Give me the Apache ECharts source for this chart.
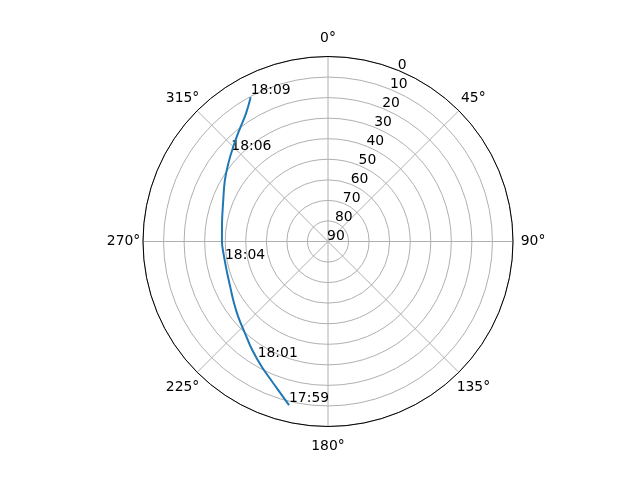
<!DOCTYPE html>
<html><head><meta charset="utf-8">
<script src="https://cdn.jsdelivr.net/npm/echarts@6/dist/echarts.min.js"></script>
<style>html,body{margin:0;padding:0;background:#fff}#c{width:640px;height:480px}</style>
</head><body><div id="c"></div>
<script>
// satellite pass: elevation (deg) and azimuth (deg)
const azimuth   = [193.4, 201.1, 207.9, 214.9, 222.1, 230.0, 238.3, 243.4, 252.5, 261.7, 270.1, 279.7, 291.6, 300.8, 308.1, 315.0, 321.5, 327.4, 331.8];
const elevation = [8.2, 16.1, 21.1, 25.6, 29.8, 33.0, 35.8, 37.2, 38.6, 38.9, 38.4, 37.7, 35.2, 31.6, 28.4, 24.8, 20.7, 16.0, 10.4];
const labelTimes     = ['17:59', '18:01', '18:04', '18:06', '18:09'];
const labelAzimuth   = [193.4, 210.7, 258.6, 312.4, 331.8];
const labelElevation = [8.2, 23.0, 38.9, 26.3, 10.4];
const angleTickLabels  = ['0°', '45°', '90°', '135°', '180°', '225°', '270°', '315°'];
const radiusTickLabels = ['0', '10', '20', '30', '40', '50', '60', '70', '80', '90'];

const FONT = 'DejaVu Sans';
const FS = 13.9;
const chart = echarts.init(document.getElementById('c'), null, {renderer: 'canvas'});
const center = [328, 241.5];
const R = 185;
// per-label padding [top, right, bottom, left] so each label is centred on a ring beyond the circle
const anglePads = [
  [0, 0, 13.7, 0],   // 0
  [0, 0, 7, 4.3],    // 45
  [0, 0, 0, 10.7],   // 90
  [9.9, 0, 0, 0],    // 135
  [16.3, 0, 0, 0],   // 180
  [9.9, 0, 0, 0],    // 225
  [0, 5.7, 0, 0],    // 270
  [0, 0, 7, 0]       // 315
];
const rich = {};
anglePads.forEach((p, i) => {
  rich['a' + i] = {padding: p, color: '#000', fontFamily: FONT, fontSize: FS};
});
chart.setOption({
  animation: false,
  backgroundColor: '#fff',
  polar: [
    {center: center, radius: R},
    {center: center, radius: R}
  ],
  angleAxis: [
    {
      polarIndex: 0, type: 'value', min: 0, max: 360, interval: 45,
      startAngle: 90, clockwise: true,
      axisLine: {show: true, lineStyle: {color: '#000', width: 1}},
      axisTick: {show: false},
      axisLabel: {
        margin: -3,
        color: '#000', fontFamily: FONT, fontSize: FS,
        rich: rich,
        formatter: v => {
          if (v >= 360) return '';
          const i = Math.round(v / 45);
          return '{a' + i + '|' + angleTickLabels[i] + '}';
        }
      },
      splitLine: {show: true, lineStyle: {color: '#b0b0b0', width: 1}}
    },
    {
      polarIndex: 1, type: 'value', min: 0, max: 360,
      startAngle: 67.5, clockwise: true, show: false
    }
  ],
  radiusAxis: [
    {
      polarIndex: 0, type: 'value', min: 0, max: 90, interval: 10, inverse: true,
      axisLine: {show: false}, axisTick: {show: false}, axisLabel: {show: false},
      splitLine: {show: true, lineStyle: {color: '#b0b0b0', width: 1}}
    },
    {
      polarIndex: 1, type: 'value', min: 0, max: 90, interval: 10, inverse: true,
      axisLine: {show: false}, axisTick: {show: false}, splitLine: {show: false},
      axisLabel: {
        show: true, margin: 1, rotate: 0, align: 'left', verticalAlign: 'bottom',
        lineHeight: 10,
        color: '#000', fontFamily: FONT, fontSize: FS,
        formatter: v => radiusTickLabels[Math.round(v / 10)]
      }
    }
  ],
  series: [
    {
      type: 'line', coordinateSystem: 'polar', polarIndex: 0,
      data: elevation.map((e, i) => [e, azimuth[i]]),
      showSymbol: false, symbol: 'none', smooth: 0.4,
      lineStyle: {color: '#1f77b4', width: 2}
    },
    {
      type: 'scatter', coordinateSystem: 'polar', polarIndex: 0,
      data: labelElevation.map((e, i) => ({value: [e, labelAzimuth[i]], name: labelTimes[i]})),
      symbolSize: 0,
      itemStyle: {opacity: 1},
      label: {
        show: true, position: [0, 0], align: 'left', verticalAlign: 'bottom',
        formatter: p => p.name, color: '#000', fontFamily: FONT, fontSize: FS,
        textBorderWidth: 0, opacity: 1
      }
    }
  ]
});
</script></body></html>
